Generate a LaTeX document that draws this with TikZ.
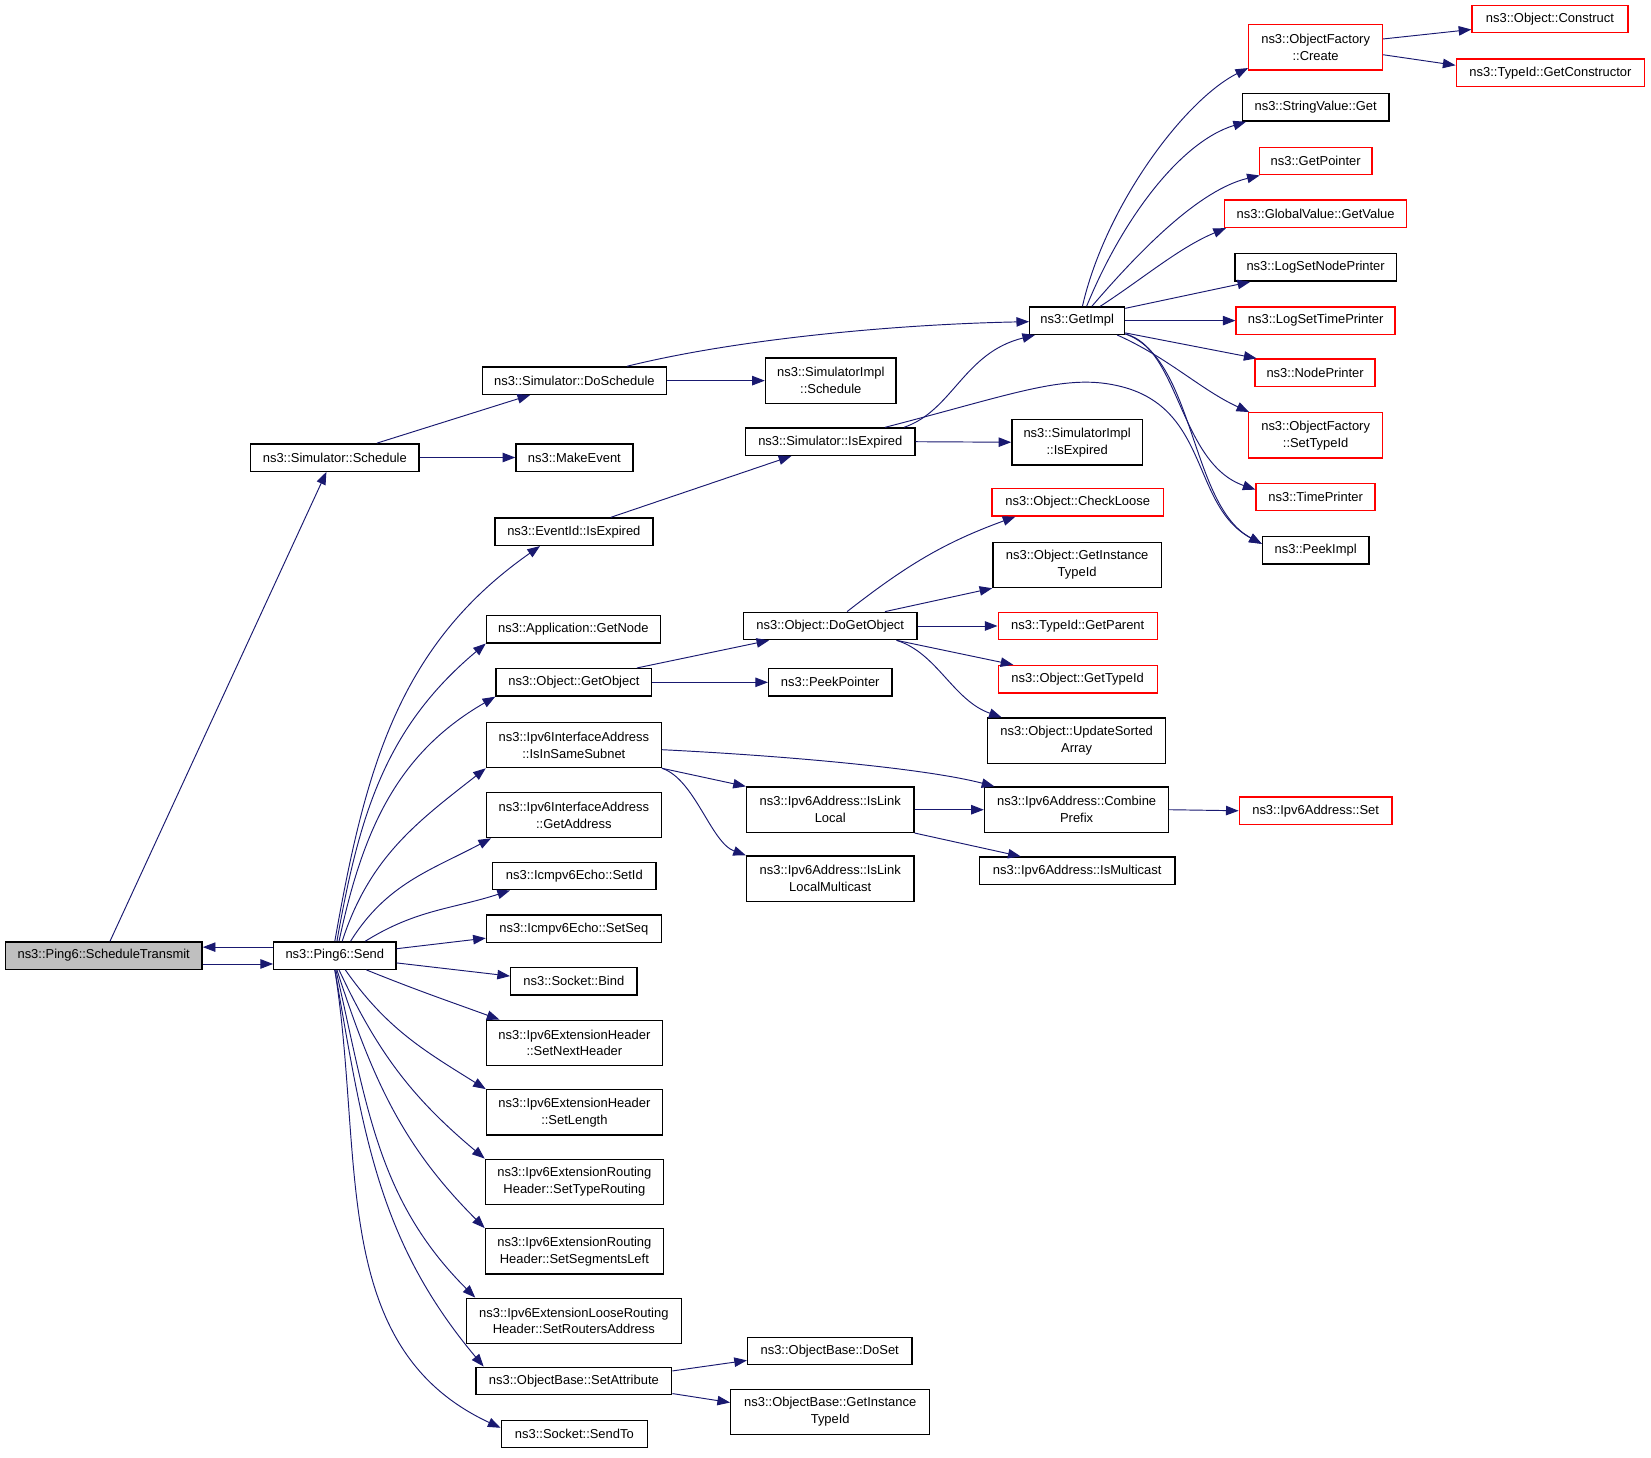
\documentclass[tikz,border=0pt]{standalone}
\usepackage{fontspec}
\setmainfont{Liberation Sans}
\usetikzlibrary{arrows.meta}
\definecolor{navy}{RGB}{25,25,112}

\begin{document}
\begin{tikzpicture}[x=1pt, y=-1pt,
		fn/.style={draw, fill=white, line width=1.3pt, inner sep=0pt, minimum height=26pt, font=\fontsize{12.3}{16}\selectfont},
		two/.style={align=center, minimum height=43pt},
		redbox/.style={draw=red},
		call/.style={navy, line width=0.9pt, -{Triangle[length=12pt,width=9pt]}}]
	\useasboundingbox (0,0) rectangle (1568,1384);

	% first and second column
	\path (98.5,907.5) node[fn, fill=gray!50, minimum width=187pt] (st) {ns3::Ping6::ScheduleTransmit}
	(318,907.5) node[fn, minimum width=116pt] (send) {ns3::Ping6::Send}
	(318,434.5) node[fn, minimum width=160pt] (sched) {ns3::Simulator::Schedule};

	% third column
	\path (545.5,361.5) node[fn, minimum width=175pt] (dosched) {ns3::Simulator::DoSchedule}
	(545.5,434.5) node[fn, minimum width=111pt] (mkevent) {ns3::MakeEvent}
	(545,505) node[fn, minimum width=150pt] (eventexp) {ns3::EventId::IsExpired}
	(544.5,597.5) node[fn, minimum width=165pt] (getnode) {ns3::Application::GetNode}
	(545,648) node[fn, minimum width=148pt] (getobj) {ns3::Object::GetObject}
	(545,707.5) node[fn, two, minimum width=166pt] (samesub) {ns3::Ipv6InterfaceAddress\\::IsInSameSubnet}
	(545,774) node[fn, two, minimum width=166pt] (getaddr) {ns3::Ipv6InterfaceAddress\\::GetAddress}
	(545.5,832) node[fn, minimum width=155pt] (setid) {ns3::Icmpv6Echo::SetId}
	(545,882) node[fn, minimum width=166pt] (setseq) {ns3::Icmpv6Echo::SetSeq}
	(545,932) node[fn, minimum width=120pt] (bind) {ns3::Socket::Bind}
	(545.5,990.5) node[fn, two, minimum width=167pt] (nexthdr) {ns3::Ipv6ExtensionHeader\\::SetNextHeader}
	(545.5,1056.5) node[fn, two, minimum width=167pt] (setlen) {ns3::Ipv6ExtensionHeader\\::SetLength}
	(545.5,1122.5) node[fn, two, minimum width=169pt] (typerout) {ns3::Ipv6ExtensionRouting\\Header::SetTypeRouting}
	(545.5,1188.5) node[fn, two, minimum width=169pt] (segleft) {ns3::Ipv6ExtensionRouting\\Header::SetSegmentsLeft}
	(545,1254.5) node[fn, two, minimum width=204pt] (routaddr) {ns3::Ipv6ExtensionLooseRouting\\Header::SetRoutersAddress}
	(545,1311.5) node[fn, minimum width=186pt] (setattr) {ns3::ObjectBase::SetAttribute}
	(545.5,1362) node[fn, minimum width=139pt] (sendto) {ns3::Socket::SendTo};

	% fourth column
	\path (789,361.5) node[fn, two, minimum width=124pt] (implsched) {ns3::SimulatorImpl\\::Schedule}
	(788.5,419.5) node[fn, minimum width=161pt] (isexp) {ns3::Simulator::IsExpired}
	(788.5,594.5) node[fn, minimum width=165pt] (dogetobj) {ns3::Object::DoGetObject}
	(788.5,648) node[fn, minimum width=117pt] (peekptr) {ns3::PeekPointer}
	(788.5,769) node[fn, two, minimum width=159pt] (linklocal) {ns3::Ipv6Address::IsLink\\Local}
	(788.5,834.5) node[fn, two, minimum width=159pt] (linkmc) {ns3::Ipv6Address::IsLink\\LocalMulticast}
	(788,1283) node[fn, minimum width=156pt] (doset) {ns3::ObjectBase::DoSet}
	(788.5,1341) node[fn, two, minimum width=189pt] (obinst) {ns3::ObjectBase::GetInstance\\TypeId};

	% fifth column
	\path (1023,304.5) node[fn, minimum width=90pt] (getimpl) {ns3::GetImpl}
	(1023,420) node[fn, two, minimum width=124pt] (implisexp) {ns3::SimulatorImpl\\::IsExpired}
	(1023.5,477) node[fn, redbox, minimum width=163pt] (checkloose) {ns3::Object::CheckLoose}
	(1023,536.5) node[fn, two, minimum width=160pt] (objinst) {ns3::Object::GetInstance\\TypeId}
	(1023.5,594.5) node[fn, redbox, minimum width=151pt] (getparent) {ns3::TypeId::GetParent}
	(1023.5,645) node[fn, redbox, minimum width=151pt] (gettypeid) {ns3::Object::GetTypeId}
	(1022.5,703.5) node[fn, two, minimum width=169pt] (sorted) {ns3::Object::UpdateSorted\\Array}
	(1022.5,769) node[fn, two, minimum width=175pt] (combine) {ns3::Ipv6Address::Combine\\Prefix}
	(1023,827) node[fn, minimum width=186pt] (ismc) {ns3::Ipv6Address::IsMulticast};

	% sixth and seventh column
	\path (1249.5,45) node[fn, two, redbox, minimum width=127pt] (create) {ns3::ObjectFactory\\::Create}
	(1249.5,102) node[fn, minimum width=139pt] (strget) {ns3::StringValue::Get}
	(1249.5,153) node[fn, redbox, minimum width=107pt] (getptr) {ns3::GetPointer}
	(1249.5,203) node[fn, redbox, minimum width=173pt] (globval) {ns3::GlobalValue::GetValue}
	(1249.5,254) node[fn, minimum width=153pt] (nodeprt) {ns3::LogSetNodePrinter}
	(1249.5,304.5) node[fn, redbox, minimum width=151pt] (timeprt) {ns3::LogSetTimePrinter}
	(1249,354) node[fn, redbox, minimum width=114pt] (nodepr) {ns3::NodePrinter}
	(1249.5,413.5) node[fn, two, redbox, minimum width=127pt] (settype) {ns3::ObjectFactory\\::SetTypeId}
	(1249.5,472) node[fn, redbox, minimum width=113pt] (timepr) {ns3::TimePrinter}
	(1249.5,522.5) node[fn, minimum width=101pt] (peekimpl) {ns3::PeekImpl}
	(1249.5,770) node[fn, redbox, minimum width=145pt] (addrset) {ns3::Ipv6Address::Set}
	(1472,18) node[fn, redbox, minimum width=148pt] (construct) {ns3::Object::Construct}
	(1472.5,69) node[fn, redbox, minimum width=179pt] (getctor) {ns3::TypeId::GetConstructor};

	% calls
	\draw[call] ([yshift=8pt]send.west) -- ([yshift=8pt]st.east);
	\draw[call] ([yshift=-8pt]st.east) -- ([yshift=-8pt]send.west);
	\draw[call] ([xshift=6pt]st.north) -- ([xshift=-8pt]sched.south);
	\draw[call] ([xshift=40pt]sched.north) -- ([xshift=-42pt]dosched.south);
	\draw[call] (sched.east) -- (mkevent.west);
	\draw[call] (dosched.east) -- (implsched.west);
	\draw[call] ([xshift=50pt]dosched.north) .. controls (700,322) and (850,308) .. ([yshift=-1pt]getimpl.west);
	\draw[call] ([xshift=70pt]isexp.north) .. controls (905,390) and (915,335) .. ([xshift=-40pt]getimpl.south);
	\draw[call] ([xshift=52pt]isexp.north) .. controls (960,375) and (1010,355) .. (1060,366)
		.. controls (1150,385) and (1130,480) .. ([yshift=6pt]peekimpl.west);
	\draw[call] (isexp.east) -- (implisexp.west);
	\draw[call] ([xshift=35pt]eventexp.north) -- ([xshift=-37pt]isexp.south);

	% from ns3::GetImpl
	\draw[call] ([xshift=5pt]getimpl.north) .. controls (1050,195) and (1125,95) .. (create.197);
	\draw[call] ([xshift=9pt]getimpl.north) .. controls (1065,210) and (1120,135) .. ([xshift=4pt]strget.south west);
	\draw[call] ([xshift=14pt]getimpl.north) .. controls (1085,235) and (1140,180) .. ([xshift=1pt]getptr.south west);
	\draw[call] ([xshift=22pt]getimpl.north) .. controls (1085,265) and (1120,235) .. ([xshift=2pt]globval.south west);
	\draw[call] ([yshift=-2pt]getimpl.north east) -- ([xshift=15pt]nodeprt.south west);
	\draw[call] (getimpl.east) -- (timeprt.west);
	\draw[call] ([yshift=2pt]getimpl.south east) -- ([xshift=2pt]nodepr.north west);
	\draw[call] ([xshift=38pt]getimpl.south) .. controls (1110,340) and (1140,370) .. ([xshift=1pt]settype.north west);
	\draw[call] ([yshift=1pt]getimpl.south east) .. controls (1120,330) and (1120,440) .. ([yshift=7pt]timepr.west);
	\draw[call] ([yshift=1pt]getimpl.south east) .. controls (1135,340) and (1130,480) .. ([yshift=6pt]peekimpl.west);
	\draw[call] ([yshift=8pt]create.east) -- ([yshift=-10pt]construct.west);
	\draw[call] ([yshift=-7pt]create.east) -- ([yshift=7pt]getctor.west);

	% from ns3::Ping6::Send
	\draw[call] (send.north) to[out=80, in=215] (eventexp.203);
	\draw[call] ([xshift=2pt]send.north) to[out=80, in=220] (getnode.south west);
	\draw[call] ([xshift=4pt]send.north) to[out=78, in=210] (getobj.south west);
	\draw[call] ([xshift=7pt]send.north) to[out=72, in=218] (samesub.south west);
	\draw[call] ([xshift=15pt]send.north) to[out=58, in=208] ([xshift=5pt]getaddr.south west);
	\draw[call] ([xshift=29pt]send.north) to[out=32, in=198] ([xshift=17pt]setid.south west);
	\draw[call] ([yshift=6.5pt]send.east) -- ([yshift=-9pt]setseq.west);
	\draw[call] ([yshift=-7pt]send.east) -- ([yshift=5pt]bind.west);
	\draw[call] ([xshift=30pt]send.south) to[out=-22, in=160] ([xshift=13pt]nexthdr.north west);
	\draw[call] ([xshift=10pt]send.south) to[out=-55, in=148] (setlen.north west);
	\draw[call] ([xshift=4pt]send.south) to[out=-65, in=140] (typerout.north west);
	\draw[call] ([xshift=2pt]send.south) to[out=-72, in=135] (segleft.north west);
	\draw[call] ([xshift=1pt]send.south) to[out=-77, in=135] ([xshift=9pt]routaddr.north west);
	\draw[call] (send.south) to[out=-80, in=130] ([xshift=8pt]setattr.north west);
	\draw[call] (send.south) to[out=-81, in=155] ([yshift=6pt]sendto.west);

	% from ns3::Object::GetObject and ns3::Object::DoGetObject
	\draw[call] ([xshift=60pt]getobj.north) -- ([xshift=-58pt]dogetobj.south);
	\draw[call] (getobj.east) -- (peekptr.west);
	\draw[call] ([xshift=16pt]dogetobj.north) to[out=38, in=200] ([xshift=23pt]checkloose.south west);
	\draw[call] ([xshift=52pt]dogetobj.north) -- (objinst.south west);
	\draw[call] (dogetobj.east) -- (getparent.west);
	\draw[call] ([xshift=63pt]dogetobj.south) -- ([xshift=15pt]gettypeid.north west);
	\draw[call] ([xshift=63pt]dogetobj.south) .. controls (890,620) and (905,665) .. ([xshift=14pt]sorted.north west);

	% from ns3::Ipv6InterfaceAddress::IsInSameSubnet
	\draw[call] ([yshift=-4.5pt]samesub.east) .. controls (750,718) and (880,730) .. ([xshift=10pt]combine.north west);
	\draw[call] (samesub.south east) -- (linklocal.north west);
	\draw[call] (samesub.south east) .. controls (660,740) and (675,800) .. (linkmc.north west);
	\draw[call] (linklocal.east) -- (combine.west);
	\draw[call] (linklocal.south east) -- ([xshift=40pt]ismc.north west);
	\draw[call] (combine.east) -- (addrset.west);

	% from ns3::ObjectBase::SetAttribute
	\draw[call] ([yshift=9.5pt]setattr.east) -- ([yshift=-9pt]doset.west);
	\draw[call] ([yshift=-12pt]setattr.east) -- ([yshift=9pt]obinst.west);
\end{tikzpicture}
\end{document}
